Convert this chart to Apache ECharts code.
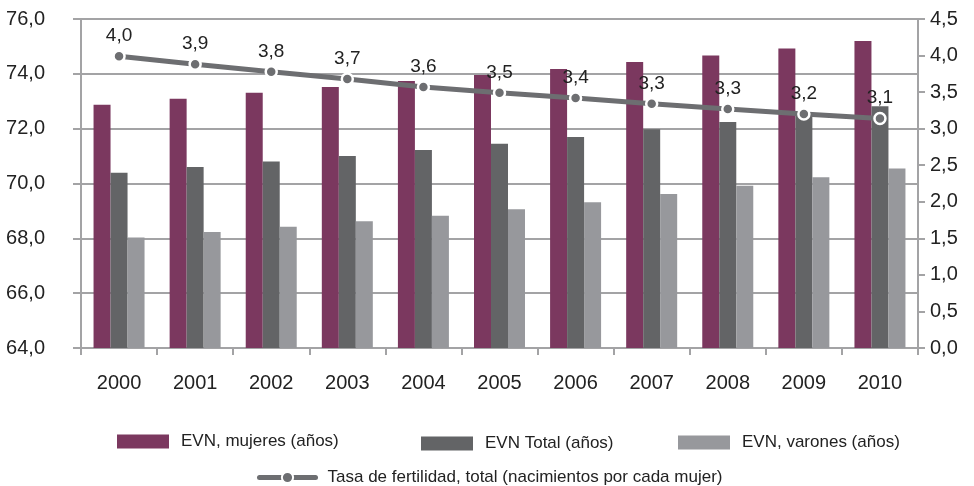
<!DOCTYPE html>
<html>
<head>
<meta charset="utf-8">
<script src="https://cdn.jsdelivr.net/npm/echarts@6/dist/echarts.min.js"></script>
<style>
  html, body { margin: 0; padding: 0; background: #fff; }
  #chart { width: 974px; height: 486px; }
</style>
</head>
<body>
<div id="chart"></div>
<script>
const years = ['2000', '2001', '2002', '2003', '2004', '2005', '2006', '2007', '2008', '2009', '2010']
const evnMujeres = [72.87, 73.09, 73.31, 73.52, 73.74, 73.96, 74.18, 74.43, 74.67, 74.92, 75.2]
const evnTotal = [70.39, 70.6, 70.8, 71.0, 71.22, 71.45, 71.7, 71.98, 72.24, 72.5, 72.82]
const evnVarones = [68.03, 68.23, 68.42, 68.62, 68.82, 69.06, 69.32, 69.62, 69.92, 70.23, 70.55]
const fertilidad = [3.99, 3.88, 3.78, 3.68, 3.57, 3.49, 3.42, 3.34, 3.27, 3.2, 3.14]

const FONT = '"Liberation Sans", Arial, sans-serif'
const axisGray = '#a3a3a5'
const fmt = (v) => v.toFixed(1).replace('.', ',')

const chart = echarts.init(document.getElementById('chart'))

// una leyenda por elemento para colocarlas como en el original
const legendBase = (name, left, top) => ({
  data: [name],
  left: left,
  top: top,
  padding: 0,
  icon: 'rect',
  itemWidth: 52,
  itemHeight: 14,
  textStyle: { color: '#222', fontSize: 17, fontFamily: FONT, padding: [0, 0, 0, 7] }
})

const lineLegend = legendBase('Tasa de fertilidad, total (nacimientos por cada mujer)', 257, 469)
delete lineLegend.icon
lineLegend.itemWidth = 56
lineLegend.lineStyle = { width: 5, cap: 'round' }

const option = {
  backgroundColor: '#fff',
  animation: false,
  textStyle: { fontFamily: FONT },
  grid: { left: 81, right: 56, top: 19, bottom: 138 },
  legend: [
    legendBase('EVN, mujeres (años)', 117, 433),
    legendBase('EVN Total (años)', 421, 435),
    legendBase('EVN, varones (años)', 678, 434),
    lineLegend
  ],
  xAxis: {
    type: 'category',
    data: years,
    axisLine: { lineStyle: { color: axisGray, width: 2 } },
    axisTick: { show: true, length: 7, lineStyle: { color: axisGray, width: 2 } },
    axisLabel: { color: '#222', fontSize: 20, margin: 25 }
  },
  yAxis: [
    {
      type: 'value',
      min: 64,
      max: 76,
      interval: 2,
      axisLine: { show: true, lineStyle: { color: axisGray, width: 2 } },
      axisTick: { show: true, length: 8, lineStyle: { color: axisGray, width: 2 } },
      splitLine: { lineStyle: { color: axisGray, width: 2 } },
      axisLabel: { color: '#222', fontSize: 20, margin: 36, formatter: fmt }
    },
    {
      type: 'value',
      min: 0,
      max: 4.5,
      interval: 0.5,
      axisLine: { show: true, lineStyle: { color: axisGray, width: 2 } },
      axisTick: { show: true, length: 7, lineStyle: { color: axisGray, width: 2 } },
      splitLine: { show: false },
      axisLabel: { color: '#222', fontSize: 20, margin: 12, formatter: fmt }
    }
  ],
  series: [
    {
      name: 'EVN, mujeres (años)',
      type: 'bar',
      barWidth: 17,
      barGap: '0%',
      itemStyle: { color: '#7b385f' },
      data: evnMujeres
    },
    {
      name: 'EVN Total (años)',
      type: 'bar',
      barWidth: 17,
      barGap: '0%',
      itemStyle: { color: '#636466' },
      data: evnTotal
    },
    {
      name: 'EVN, varones (años)',
      type: 'bar',
      barWidth: 17,
      barGap: '0%',
      itemStyle: { color: '#97989c' },
      data: evnVarones
    },
    {
      name: 'Tasa de fertilidad, total (nacimientos por cada mujer)',
      type: 'line',
      yAxisIndex: 1,
      z: 5,
      symbol: 'circle',
      symbolSize: 11,
      lineStyle: { color: '#6d6e71', width: 5, cap: 'round' },
      itemStyle: { color: '#6d6e71', borderColor: '#fff', borderWidth: 2.5 },
      label: {
        show: true,
        position: 'top',
        distance: 4,
        color: '#222',
        fontSize: 19,
        formatter: (p) => fmt(p.value)
      },
      data: fertilidad
    }
  ]
}

chart.setOption(option)
</script>
</body>
</html>
